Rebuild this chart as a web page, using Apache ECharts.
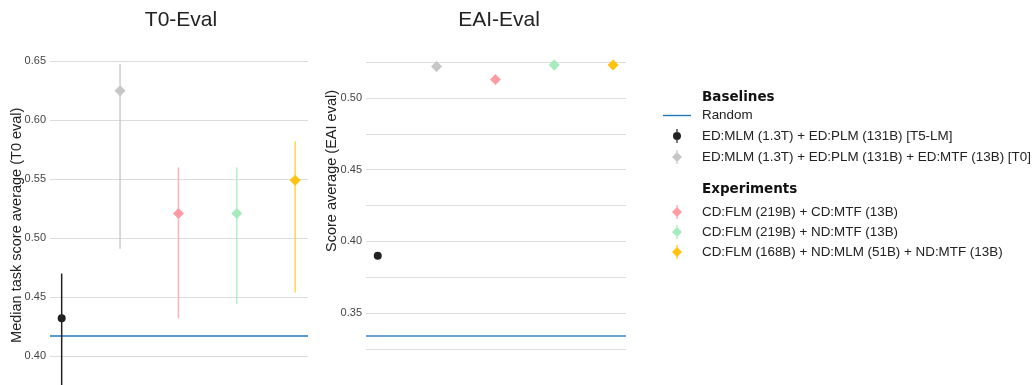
<!DOCTYPE html>
<html>
<head>
<meta charset="utf-8">
<script src="https://cdn.jsdelivr.net/npm/echarts@6/dist/echarts.min.js"></script>
<style>html,body{margin:0;padding:0;background:#fff}#c{width:1032px;height:385px}</style>
</head>
<body>
<div id="c"></div>
<script>
// ---- data ----
const methods = [
  'ED:MLM (1.3T) + ED:PLM (131B) [T5-LM]',
  'ED:MLM (1.3T) + ED:PLM (131B) + ED:MTF (13B) [T0]',
  'CD:FLM (219B) + CD:MTF (13B)',
  'CD:FLM (219B) + ND:MTF (13B)',
  'CD:FLM (168B) + ND:MLM (51B) + ND:MTF (13B)'
];
const positions = [0, 1, 2, 3, 4];
const t0Mean = [0.432, 0.625, 0.521, 0.521, 0.549];
const t0Low  = [0.360, 0.491, 0.432, 0.444, 0.454];
const t0High = [0.470, 0.648, 0.560, 0.560, 0.582];
const eaiMean = [0.390, 0.522, 0.513, 0.523, 0.523];
const randomT0 = 0.417;
const randomEAI = 0.334;
const chartTitles = ['T0-Eval', 'EAI-Eval'];
const yTitles = ['Median task score average (T0 eval)', 'Score average (EAI eval)'];
const groupTitles = ['Baselines', 'Experiments'];

// ---- styles ----
const X_MIN = -0.2, X_MAX = 4.22;
const markerColors = ['#222222', '#c6c6c6', '#ff9ca3', '#a6ebbd', '#ffc20e'];
const barColors    = ['#222222', '#cccccc', '#ffb3b8', '#b8ecc8', '#ffd54a'];
const randomColors = ['#2177b8', '#6fa4d0'];
const symbols = ['circle', 'diamond', 'diamond', 'diamond', 'diamond'];
const symbolSizes = [8, 11, 11, 11, 11];
const FONT = '"Liberation Sans", Arial, Helvetica, sans-serif';
const iconCircle = 'path://M4.4,0H5.6V14H4.4Z M5,3A4,4 0 1 1 4.99,3Z';
const iconDiamond = 'path://M4.4,0H5.6V14H4.4Z M5,2L10,7L5,12L0,7Z';
const iconLine = 'path://M0,0H28V1.4H0Z';

const chart = echarts.init(document.getElementById('c'), null, {renderer: 'canvas'});

const series = [];
// Random baseline lines, spanning the x range of each panel
[randomT0, randomEAI].forEach((r, gi) => {
  series.push({
    name: 'Random', type: 'line', xAxisIndex: gi, yAxisIndex: gi,
    data: [[X_MIN, r], [X_MAX, r]], symbol: 'none', color: randomColors[0],
    lineStyle: {color: randomColors[gi], width: gi === 0 ? 1.3 : 2},
    silent: true, z: 1
  });
});
methods.forEach((m, i) => {
  // error bars (T0 chart)
  series.push({
    name: m, type: 'custom', xAxisIndex: 0, yAxisIndex: 0,
    color: markerColors[i],
    data: [[positions[i], t0Low[i], t0High[i]]],
    encode: {x: 0, y: [1, 2]},
    renderItem: function (params, api) {
      const a = api.coord([api.value(0), api.value(1)]);
      const b = api.coord([api.value(0), api.value(2)]);
      return {type: 'line', shape: {x1: a[0], y1: a[1], x2: b[0], y2: b[1]},
              style: {stroke: barColors[i], lineWidth: 1.5}};
    },
    z: 2, silent: true
  });
  series.push({
    name: m, type: 'scatter', xAxisIndex: 0, yAxisIndex: 0,
    color: markerColors[i], symbol: symbols[i], symbolSize: symbolSizes[i],
    itemStyle: {opacity: 1},
    data: [[positions[i], t0Mean[i]]], z: 3
  });
  series.push({
    name: m, type: 'scatter', xAxisIndex: 1, yAxisIndex: 1,
    color: markerColors[i], symbol: symbols[i], symbolSize: symbolSizes[i],
    itemStyle: {opacity: 1},
    data: [[positions[i], eaiMean[i]]], z: 3
  });
});

const yLabel = {fontSize: 11, color: '#444', fontFamily: FONT, margin: 4};
const splitLine = {lineStyle: {color: '#dcdcdc', width: 1.2}};
const legendText = {fontSize: 13.4, color: '#222', fontFamily: FONT, padding: [0, 0, 0, 6]};

const option = {
  animation: false,
  backgroundColor: '#ffffff',
  textStyle: {fontFamily: FONT},
  grid: [
    {left: 50, width: 258, top: 49.5, height: 365.5, outerBoundsMode: 'none', containLabel: false},
    {left: 366, width: 260, top: 55, height: 294, outerBoundsMode: 'none', containLabel: false}
  ],
  xAxis: [
    {type: 'value', gridIndex: 0, min: X_MIN, max: X_MAX, show: false},
    {type: 'value', gridIndex: 1, min: X_MIN, max: X_MAX, show: false}
  ],
  yAxis: [
    {type: 'value', gridIndex: 0, min: 0.35, max: 0.66, interval: 0.05,
     axisLine: {show: false}, axisTick: {show: false},
     axisLabel: Object.assign({showMaxLabel: false, formatter: v => v.toFixed(2)}, yLabel),
     splitLine: Object.assign({showMaxLine: false}, splitLine),
     name: yTitles[0], nameLocation: 'middle', nameGap: 26, nameMoveOverlap: false,
     nameTextStyle: {fontSize: 14.5, color: '#222', fontFamily: FONT, padding: [0, 0, 0, 14]}},
    {type: 'value', gridIndex: 1, min: 0.325, max: 0.53, interval: 0.025,
     axisLine: {show: false}, axisTick: {show: false},
     axisLabel: Object.assign({showMaxLabel: false,
       formatter: v => (Math.round(v * 1000) % 50 === 0 ? v.toFixed(2) : '')}, yLabel),
     splitLine: Object.assign({showMaxLine: false}, splitLine),
     name: yTitles[1], nameLocation: 'middle', nameGap: 27, nameMoveOverlap: false,
     nameTextStyle: {fontSize: 14.5, color: '#222', fontFamily: FONT, padding: [0, 0, 0, 62]}}
  ],
  legend: [
    {orient: 'vertical', left: 663, top: 109, padding: 0, itemGap: 7, align: 'left',
     itemWidth: 28, itemHeight: 14, selectedMode: false, textStyle: legendText,
     data: [
       {name: 'Random', icon: iconLine},
       {name: methods[0], icon: iconCircle},
       {name: methods[1], icon: iconDiamond}
     ]},
    {orient: 'vertical', left: 672, top: 205, padding: 0, itemGap: 6, align: 'left',
     itemWidth: 28, itemHeight: 14, selectedMode: false, textStyle: legendText,
     data: [
       {name: methods[2], icon: iconDiamond},
       {name: methods[3], icon: iconDiamond},
       {name: methods[4], icon: iconDiamond}
     ]}
  ],
  graphic: [
    {type: 'text', x: 181, y: 20, style: {text: chartTitles[0], fontSize: 21, fill: '#222',
      fontFamily: FONT, align: 'center', verticalAlign: 'middle'}},
    {type: 'text', x: 499, y: 20, style: {text: chartTitles[1], fontSize: 21, fill: '#222',
      fontFamily: FONT, align: 'center', verticalAlign: 'middle'}},
    {type: 'text', x: 702, y: 97, style: {text: groupTitles[0], fontSize: 13.5, fontWeight: 'bold',
      fill: '#111', fontFamily: '"DejaVu Sans", sans-serif', verticalAlign: 'middle'}},
    {type: 'text', x: 702, y: 189, style: {text: groupTitles[1], fontSize: 13.5, fontWeight: 'bold',
      fill: '#111', fontFamily: '"DejaVu Sans", sans-serif', verticalAlign: 'middle'}}
  ],
  series: series
};
chart.setOption(option);
</script>
</body>
</html>
